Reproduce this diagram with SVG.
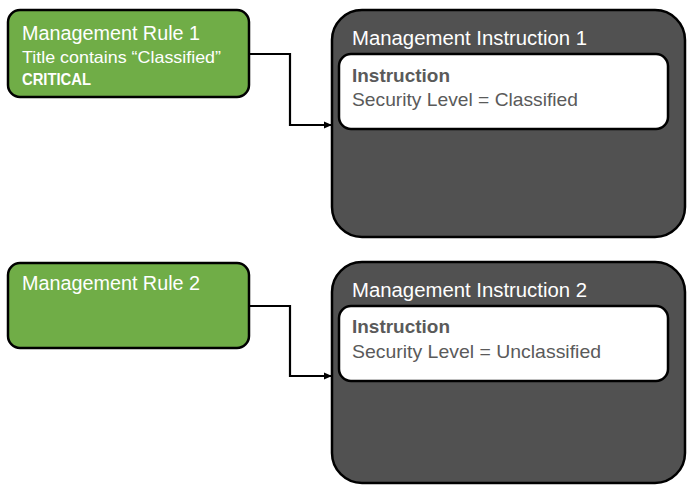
<svg xmlns="http://www.w3.org/2000/svg" width="691" height="486" viewBox="0 0 691 486">
  <defs>
    <style>
      .rule { fill: #70AD47; stroke: #000; stroke-width: 2.5; }
      .instr { fill: #515151; stroke: #000; stroke-width: 2.5; }
      .inner { fill: #fff; stroke: #000; stroke-width: 2.5; }
      text { font-family: "Liberation Sans", Arial, sans-serif; }
      .wt { fill: #fff; }
      .gt { fill: #5a5a5a; }
      .conn { fill: none; stroke: #000; stroke-width: 2.2; }
    </style>
    <marker id="arrow" markerWidth="8" markerHeight="8" refX="7" refY="4" orient="auto" markerUnits="userSpaceOnUse">
      <path d="M0,0.5 L8,4 L0,7.5 Z" fill="#000"/>
    </marker>
  </defs>
  <rect width="691" height="486" fill="#fff"/>

  <g id="rule1">
    <rect class="rule" x="8" y="10" width="241" height="87" rx="12"/>
    <text class="wt" x="22" y="40" font-size="20" textLength="178" lengthAdjust="spacingAndGlyphs">Management Rule 1</text>
    <text class="wt" x="22" y="63" font-size="16.5" textLength="199" lengthAdjust="spacingAndGlyphs">Title contains “Classified”</text>
    <text class="wt" x="22" y="85" font-size="16.5" font-weight="bold" textLength="69" lengthAdjust="spacingAndGlyphs">CRITICAL</text>
  </g>

  <g id="instruction1">
    <rect class="instr" x="332" y="10" width="353" height="227" rx="30"/>
    <text class="wt" x="352" y="45" font-size="20" textLength="235" lengthAdjust="spacingAndGlyphs">Management Instruction 1</text>
    <rect class="inner" x="339" y="54" width="329" height="75" rx="12"/>
    <text class="gt" x="352" y="82" font-size="19" font-weight="bold" textLength="98" lengthAdjust="spacingAndGlyphs">Instruction</text>
    <text class="gt" x="352" y="106" font-size="19" textLength="226" lengthAdjust="spacingAndGlyphs">Security Level = Classified</text>
  </g>

  <g id="rule2">
    <rect class="rule" x="8" y="263" width="241" height="85" rx="12"/>
    <text class="wt" x="22" y="290" font-size="20" textLength="178" lengthAdjust="spacingAndGlyphs">Management Rule 2</text>
  </g>

  <g id="instruction2">
    <rect class="instr" x="332" y="262" width="353" height="221" rx="30"/>
    <text class="wt" x="352" y="297" font-size="20" textLength="235" lengthAdjust="spacingAndGlyphs">Management Instruction 2</text>
    <rect class="inner" x="339" y="306" width="329" height="75" rx="12"/>
    <text class="gt" x="352" y="333" font-size="19" font-weight="bold" textLength="98" lengthAdjust="spacingAndGlyphs">Instruction</text>
    <text class="gt" x="352" y="358" font-size="19" textLength="249" lengthAdjust="spacingAndGlyphs">Security Level = Unclassified</text>
  </g>

  <g id="connectors">
    <path class="conn" d="M249,54 H290 V125 H331" marker-end="url(#arrow)"/>
    <path class="conn" d="M249,306 H290 V376 H331" marker-end="url(#arrow)"/>
  </g>
</svg>
